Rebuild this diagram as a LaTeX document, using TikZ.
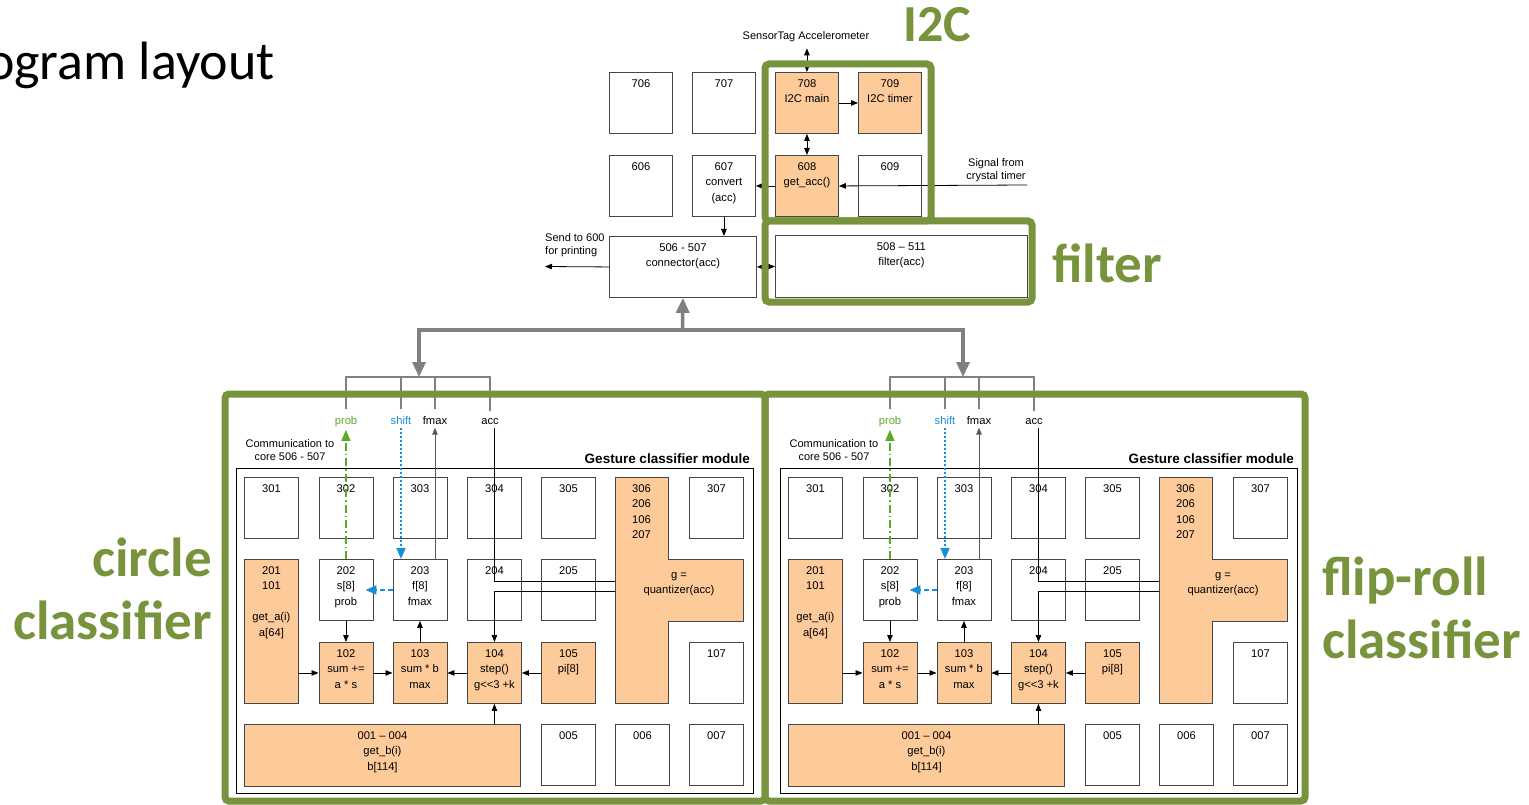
\documentclass[tikz,border=0pt]{standalone}
\usepackage{fontspec}
\setmainfont{Liberation Sans}
\newfontfamily\calib{Carlito}
\usetikzlibrary{arrows.meta, positioning, calc}

\definecolor{hotfill}{RGB}{253,202,153}
\definecolor{olive}{RGB}{119,147,60}
\definecolor{probcol}{RGB}{90,170,40}
\definecolor{shiftcol}{RGB}{25,140,220}
\definecolor{edge}{RGB}{70,70,70}
\definecolor{treegray}{RGB}{128,128,128}

\tikzset{
  small/.style={font=\fontsize{11.2}{15.6}\selectfont},
  note/.style={font=\fontsize{11}{13}\selectfont, inner sep=0pt},
  boxtxt/.style={small, anchor=north, align=center, inner sep=0pt, yshift=-7pt},
  cell/.style={draw=edge, line width=0.9pt, anchor=north west, inner sep=0pt,
    minimum width=54pt, minimum height=61pt, label={[boxtxt]north:{#1}}},
  core/.style={cell={#1}, minimum width=63pt},
  hot/.style={fill=hotfill},
  arr/.style={line width=0.8pt, -{Triangle[length=7pt, width=5.5pt]}},
  darr/.style={line width=0.8pt, {Triangle[length=7pt, width=5.5pt]}-{Triangle[length=7pt, width=5.5pt]}},
  bracket/.style={draw=treegray, line width=2.5pt},
  tree/.style={draw=treegray, line width=3.5pt, -{Triangle[length=15pt, width=13pt]}},
  frame/.style={draw=olive, line width=7pt, rounded corners=4pt},
  big/.style={text=olive, font=\calib\bfseries\fontsize{55}{63}\selectfont, inner sep=0pt}
}

\begin{document}
\begin{tikzpicture}[x=1pt, y=-1pt]
\useasboundingbox[fill=white] (0,0) rectangle (1529,805);

% title, cut off at the left edge
\node[anchor=base east, inner sep=0pt, font=\calib\fontsize{54}{60}\selectfont] (title) at (275,80) {Program layout};

% cores of the sensor side
\node[core=706] (c706) at (609,72) {};
\node[core=707] (c707) at (692,72) {};
\node[core={708\\I2C main}, hot] (c708) at (775,72) {};
\node[core={709\\I2C timer}, hot] (c709) at (858,72) {};
\node[core=606] (c606) at (609,155) {};
\node[core={607\\convert\\(acc)}] (c607) at (692,155) {};
\node[core={608\\get\_acc()}, hot] (c608) at (775,155) {};
\node[core=609] (c609) at (858,155) {};
\node[core={506 - 507\\connector(acc)}, minimum width=147pt] (c506) at (609,236) {};
\node[core={508 – 511\\filter(acc)}, minimum width=252pt, minimum height=62pt] (c508) at (775,235) {};

\node[note] (sensor) at (806,37) {SensorTag Accelerometer};
\node[note, align=center] (signal) at (996,170) {Signal from\\crystal timer};
\node[note, align=left, anchor=north west] (send) at (545,233) {Send to 600\\for printing};
\coordinate (crystal) at (1027,185);
\coordinate (printer) at (545,266.5);

\draw[darr, shorten >=6pt] (c708.north) -- (c708.north |- sensor.south);
\draw[arr] (c708.east) -- (c709.west);
\draw[darr] (c708.south) -- (c608.north);
\draw[arr] (crystal) -- (c608.east);
\draw[arr] (c608.west) -- (c607.east);
\draw[arr] (c607.south) -- (c607.south |- c506.north);
\draw[darr] (c506.east) -- (c508.west);
\draw[arr] (c506.west) -- (printer);

% the two gesture classifier modules
\foreach \m/\dx in {L/0, R/544}{
\begin{scope}[xshift=\dx pt]
  \draw[line width=0.8pt] (236,468) rectangle (753,793);
  \node[anchor=base east, inner sep=0pt, font=\bfseries\fontsize{13.5}{16}\selectfont] (\m-title) at (750,463) {Gesture classifier module};
  \node[note, align=center] (\m-comm) at (290,450) {Communication to\\core 506 - 507};

  \node[small, anchor=base, text=probcol] (\m-prob) at (346,424) {prob};
  \node[small, anchor=base, text=shiftcol] (\m-shift) at (401,424) {shift};
  \node[small, anchor=base] (\m-fmax) at (435,424) {fmax};
  \node[small, anchor=base] (\m-acc) at (490,424) {acc};
  \coordinate (\m-top) at (419,377);

  \node[cell=301] (\m-301) at (244,477) {};
  \node[cell=302] (\m-302) at (318.5,477) {};
  \node[cell=303] (\m-303) at (392.5,477) {};
  \node[cell=304] (\m-304) at (467,477) {};
  \node[cell=305] (\m-305) at (541,477) {};
  \node[cell=307] (\m-307) at (689,477) {};

  \node[cell={201\\101\\[15.6pt]get\_a(i)\\a[64]}, hot, minimum height=144pt] (\m-201) at (244,559) {};
  \node[cell={202\\s[8]\\prob}] (\m-202) at (318.5,559) {};
  \node[cell={203\\f[8]\\fmax}] (\m-203) at (392.5,559) {};
  \node[cell=204] (\m-204) at (467,559) {};
  \node[cell=205] (\m-205) at (541,559) {};

  \node[cell={102\\sum +=\\a * s}, hot] (\m-102) at (318.5,642) {};
  \node[cell={103\\sum * b\\max}, hot] (\m-103) at (392.5,642) {};
  \node[cell={104\\step()\\g<{}<3 +k}, hot] (\m-104) at (467,642) {};
  \node[cell={105\\pi[8]}, hot] (\m-105) at (541,642) {};
  \node[cell=107] (\m-107) at (689,642) {};

  \node[cell={001 – 004\\get\_b(i)\\b[114]}, hot, minimum width=276pt, minimum height=62pt] (\m-001) at (244,724) {};
  \node[cell=005] (\m-005) at (541,724) {};
  \node[cell=006] (\m-006) at (615,724) {};
  \node[cell=007] (\m-007) at (689,724) {};

  % quantizer block
  \filldraw[fill=hotfill, draw=edge, line width=0.9pt] (615,477) -- (668,477) -- (668,559) -- (743,559)
    -- (743,621) -- (668,621) -- (668,703) -- (615,703) -- cycle;
  \node[small, anchor=north, align=center, inner sep=0pt] (\m-306) at (641.5,484) {306\\206\\106\\207};
  \node[small, align=center, inner sep=0pt] (\m-quant) at (679,584) {g =\\quantizer(acc)};
  \coordinate (\m-qin) at (615,581);
  \coordinate (\m-qout) at (615,591);

  \draw[bracket, shorten <=3pt, shorten >=3pt] (\m-prob.north) |- (\m-top) -| (\m-acc.north);
  \draw[bracket, shorten <=3pt] (\m-shift.north) -- (\m-shift.north |- \m-top);
  \draw[bracket, shorten <=3pt] (\m-fmax.north) -- (\m-fmax.north |- \m-top);

  \draw[arr] (\m-201.east |- \m-102.west) -- (\m-102.west);
  \draw[arr] (\m-102.east) -- (\m-103.west);
  \draw[arr] (\m-104.west) -- (\m-103.east);
  \draw[arr] (\m-105.west) -- (\m-104.east);
  \draw[arr] (\m-202.south) -- (\m-102.north);
  \draw[arr] (\m-103.north) -- (\m-203.south);
  \draw[arr] (\m-001.north -| \m-104.south) -- (\m-104.south);
  \draw[line width=0.8pt] (\m-104.north |- \m-acc.south) |- (\m-qin);
  \draw[arr] (\m-qout) -| (\m-104.north);
  \draw[arr, draw=black!65] (\m-fmax.south |- \m-203.north) -- (\m-fmax.south);

  \draw[probcol, line width=1.6pt, dash pattern=on 8pt off 3pt on 1.5pt off 3pt,
    -{Triangle[length=11pt, width=9pt]}] (\m-202.north) -- (\m-202.north |- \m-prob.south);
  \draw[shiftcol, line width=1.8pt, dash pattern=on 2pt off 2pt,
    -{Triangle[length=11pt, width=9pt]}] (\m-shift.south) -- (\m-shift.south |- \m-203.north);
  \draw[shiftcol, line width=1.8pt, dash pattern=on 5pt off 3pt, shorten >=-8pt,
    -{Triangle[length=11pt, width=9pt]}] (\m-203.west) -- (\m-202.east);
\end{scope}
}

% links from the connector core to both modules
\coordinate (hub) at (682.5,330);
\draw[tree] (hub) -- (c506.south);
\draw[tree] (hub) -| (L-top);
\draw[tree] (hub) -| (R-top);

% green frames
\draw[frame] (765,64) rectangle (931,221);
\draw[frame] (765,221) rectangle (1032,302);
\draw[frame] (225,394) rectangle (765,801);
\draw[frame] (765,394) rectangle (1305,801);

\node[big, font=\calib\bfseries\fontsize{52}{60}\selectfont] (i2c) at (937,25) {I2C};
\node[big, anchor=base west] (filt) at (1052,283) {filter};
\node[big, anchor=north east, align=right] (circ) at (212,538) {circle\\classifier};
\node[big, anchor=north west, align=left] (flip) at (1322,557) {flip-roll\\classifier};
\end{tikzpicture}
\end{document}
